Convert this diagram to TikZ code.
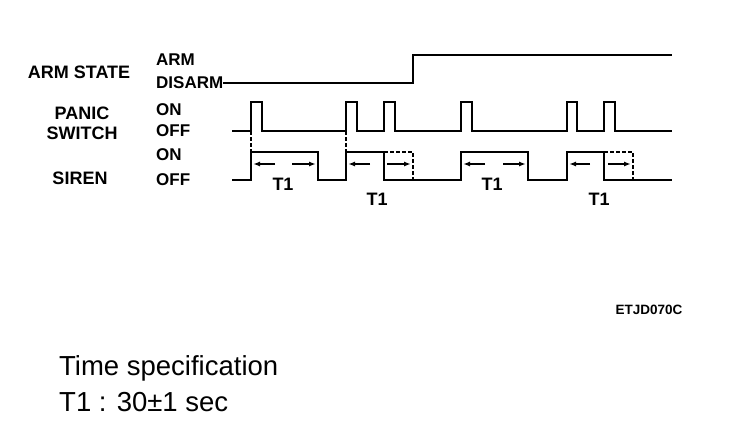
\documentclass[tikz,border=0pt]{standalone}
\usepackage{fontspec}
\setmainfont{Liberation Sans}
\usetikzlibrary{arrows.meta, positioning}

\begin{document}
\begin{tikzpicture}[
    x=1pt, y=-1pt,
    >={Latex[length=7pt, width=5pt]},
    siglbl/.style={font=\fontsize{18}{18}\selectfont\bfseries, align=center, inner sep=0pt},
    statelbl/.style={font=\fontsize{17}{17}\selectfont\bfseries, anchor=west, inner sep=0pt},
    timelbl/.style={font=\fontsize{18}{18}\selectfont\bfseries, inner sep=0pt},
    speclbl/.style={font=\fontsize{27.5}{27.5}\selectfont, anchor=west, inner sep=0pt},
    signal/.style={draw=black, line width=2.8pt, line join=miter},
    extend/.style={draw=black, line width=1.6pt, dashed, dash pattern=on 4pt off 2pt},
    span/.style={draw=black, line width=2pt, ->}
]
    \useasboundingbox (0,0) rectangle (736,432);

    % Signal names
    \node [siglbl] (armstate) at (79,72) {ARM STATE};
    \node [siglbl] (panic) at (82,123) {PANIC\\[2pt]SWITCH};
    \node [siglbl] (siren) at (80,178) {SIREN};

    % Levels
    \node [statelbl] (arm) at (156,60) {ARM};
    \node [statelbl] (disarm) at (156,83) {DISARM};
    \node [statelbl] (panicon) at (156,110) {ON};
    \node [statelbl] (panicoff) at (156,131) {OFF};
    \node [statelbl] (sirenon) at (156,155) {ON};
    \node [statelbl] (sirenoff) at (156,180) {OFF};

    % Arm state
    \draw [signal] (disarm.east) -- (413,83) |- (672,55);

    % Panic switch
    \draw [signal] (232,131) -- (251,131) |- (262,102) -- (262,131)
        -- (346,131) |- (357,102) -- (357,131)
        -- (384,131) |- (395,102) -- (395,131)
        -- (461,131) |- (472,102) -- (472,131)
        -- (567,131) |- (577,102) -- (577,131)
        -- (604,131) |- (615,102) -- (615,131) -- (672,131);

    % Siren
    \draw [signal] (232,180) -- (251,180) |- (318,152) -- (318,180)
        -- (346,180) |- (384,152) -- (384,180)
        -- (461,180) |- (528,152) -- (528,180)
        -- (567,180) |- (604,152) -- (604,180) -- (672,180);

    % Siren cut short by the second press
    \draw [extend] (384,152) -| (413,180);
    \draw [extend] (604,152) -| (633,180);
    \draw [extend] (251,131) -- (251,152);
    \draw [extend] (346,131) -- (346,152);

    % T1 spans
    \foreach \a/\b/\c/\d in {275/253/292/316, 370/348/387/411, 485/463/503/526, 590/569/608/631} {
        \draw [span] (\a,164) -- (\b,164);
        \draw [span] (\c,164) -- (\d,164);
    }
    \node [timelbl] (tone) at (283,184) {T1};
    \node [timelbl] (ttwo) at (377,199) {T1};
    \node [timelbl] (tthree) at (492,184) {T1};
    \node [timelbl] (tfour) at (599,199) {T1};

    \node [font=\fontsize{13.5}{13.5}\selectfont\bfseries, inner sep=0pt] (code) at (649,310) {ETJD070C};

    % Time specification
    \node [speclbl] (spec) at (59,368) {Time specification};
    \node [speclbl] (specval) at (59,402) {T1 : 30±1 sec};

\end{tikzpicture}
\end{document}
